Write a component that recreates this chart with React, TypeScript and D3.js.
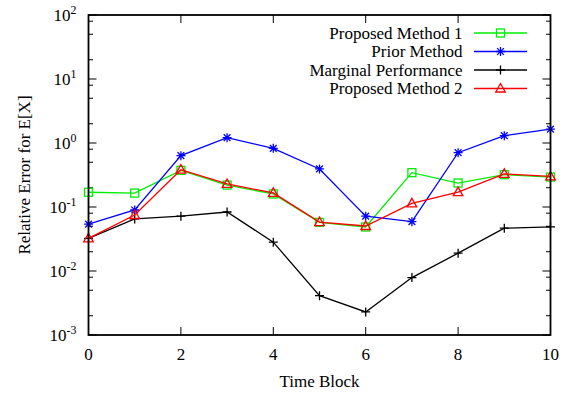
import React from "react";
import * as d3 from "d3";

const timeBlocks = [0, 1, 2, 3, 4, 5, 6, 7, 8, 9, 10];
const proposed1 = [0.17, 0.165, 0.374, 0.22, 0.16, 0.0575, 0.0487, 0.344, 0.237, 0.32, 0.294];
const prior = [0.054, 0.0898, 0.634, 1.21, 0.826, 0.393, 0.072, 0.059, 0.706, 1.3, 1.65];
const marginal = [0.0324, 0.065, 0.072, 0.0835, 0.0282, 0.00411, 0.00229, 0.0079, 0.019, 0.0466, 0.049];
const proposed2 = [0.0324, 0.075, 0.383, 0.229, 0.166, 0.058, 0.0505, 0.114, 0.171, 0.33, 0.3];

const xTicks = [0, 2, 4, 6, 8, 10];
const yExps = [-3, -2, -1, 0, 1, 2];
const minorMult = [2, 5, 8];

type Series = { name: string; values: number[]; color: string; marker: string };
const series: Series[] = [
  { name: "Proposed Method 1", values: proposed1, color: "#00ee00", marker: "square" },
  { name: "Prior Method", values: prior, color: "#0000ff", marker: "star" },
  { name: "Marginal Performance", values: marginal, color: "#000000", marker: "plus" },
  { name: "Proposed Method 2", values: proposed2, color: "#ff0000", marker: "triangle" },
];

const W = 576, H = 398;
const L = 88.5, R = 550.5, T = 15, B = 335;
const FF = '"Liberation Serif"';
const SC = 0.85; // 20px text scaled to 17px

function Marker({ type, x, y, color }: { type: string; x: number; y: number; color: string }) {
  const s = 4;
  if (type === "square")
    return <rect x={x - s} y={y - s} width={2 * s} height={2 * s} fill="none" stroke={color} strokeWidth={1.3} />;
  if (type === "triangle")
    return (
      <path d={`M${x},${y - 5} L${x + 4.8},${y + 3.5} L${x - 4.8},${y + 3.5} Z`} fill="none" stroke={color} strokeWidth={1.3} />
    );
  if (type === "plus")
    return <path d={`M${x - 4.5},${y} H${x + 4.5} M${x},${y - 4.5} V${y + 4.5}`} stroke={color} strokeWidth={1.3} />;
  const r = 4.5, d = r * 0.75;
  return (
    <path
      d={`M${x - r},${y} H${x + r} M${x},${y - r} V${y + r} M${x - d},${y - d} L${x + d},${y + d} M${x - d},${y + d} L${x + d},${y - d}`}
      stroke={color}
      strokeWidth={1.3}
    />
  );
}

function Label({ x, y, anchor, rotate = 0, children }: { x: number; y: number; anchor: string; rotate?: number; children: React.ReactNode }) {
  return (
    <g transform={`translate(${x},${y}) rotate(${rotate}) scale(${SC})`}>
      <text x={0} y={0} textAnchor={anchor} style={{ fontFamily: FF, fontSize: "20px" }}>
        {children}
      </text>
    </g>
  );
}

export default function App() {
  const x = d3.scaleLinear().domain([0, 10]).range([L, R]);
  const y = d3.scaleLog().domain([1e-3, 1e2]).range([B, T]);
  const line = d3
    .line<number>()
    .x((_, i) => x(timeBlocks[i]))
    .y((v) => y(v));

  const minorVals: number[] = [];
  yExps.slice(0, -1).forEach((e) => minorMult.forEach((m) => minorVals.push(m * Math.pow(10, e))));

  const legendX = 462.5;
  const legendY0 = 33;
  const legendDy = 18.5;

  return (
    <svg width={W} height={H} style={{ position: "absolute", left: 0, top: 0 }}>
      <rect width={W} height={H} fill="#fff" />
      {yExps.map((e) => (
        <g key={"y" + e}>
          <line x1={L} x2={L + 8} y1={y(Math.pow(10, e))} y2={y(Math.pow(10, e))} stroke="#000" strokeWidth={1} />
          <line x1={R} x2={R - 8} y1={y(Math.pow(10, e))} y2={y(Math.pow(10, e))} stroke="#000" strokeWidth={1} />
          <Label x={L - 12} y={y(Math.pow(10, e)) + 6} anchor="end">
            10
            <tspan dy={-8} style={{ fontFamily: FF, fontSize: "14px" }}>{String(e)}</tspan>
          </Label>
        </g>
      ))}
      {minorVals.map((v, i) => (
        <g key={"m" + i}>
          <line x1={L} x2={L + 4.5} y1={y(v)} y2={y(v)} stroke="#000" strokeWidth={1} />
          <line x1={R} x2={R - 4.5} y1={y(v)} y2={y(v)} stroke="#000" strokeWidth={1} />
        </g>
      ))}
      {xTicks.map((t) => (
        <g key={"x" + t}>
          <line x1={x(t)} x2={x(t)} y1={B} y2={B - 8} stroke="#000" strokeWidth={1} />
          <line x1={x(t)} x2={x(t)} y1={T} y2={T + 8} stroke="#000" strokeWidth={1} />
          <Label x={x(t)} y={360} anchor="middle">
            {t}
          </Label>
        </g>
      ))}
      {series.map((s) => (
        <g key={s.name}>
          <path d={line(s.values) || ""} fill="none" stroke={s.color} strokeWidth={1.3} />
          {s.values.map((v, i) => (
            <Marker key={i} type={s.marker} x={x(timeBlocks[i])} y={y(v)} color={s.color} />
          ))}
        </g>
      ))}
      {series.map((s, i) => {
        const ly = legendY0 + i * legendDy;
        return (
          <g key={"lg" + i}>
            <Label x={legendX} y={ly + 5.5} anchor="end">
              {s.name}
            </Label>
            <line x1={474} x2={527} y1={ly} y2={ly} stroke={s.color} strokeWidth={1.3} />
            <Marker type={s.marker} x={500.5} y={ly} color={s.color} />
          </g>
        );
      })}
      <rect x={L} y={T} width={R - L} height={B - T} fill="none" stroke="#000" strokeWidth={1.8} />
      <Label x={319.5} y={387} anchor="middle">
        Time Block
      </Label>
      <Label x={30} y={(T + B) / 2} anchor="middle" rotate={-90}>
        Relative Error for E[X]
      </Label>
    </svg>
  );
}
